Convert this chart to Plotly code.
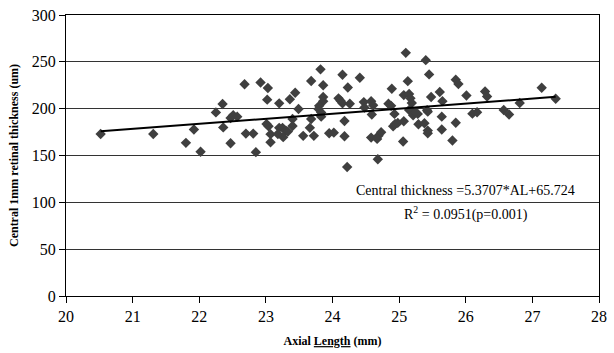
import plotly.graph_objects as go

axial_length = [20.52,21.31,21.80,22.02,21.92,22.25,22.35,22.36,22.47,22.47,22.51,22.57,22.68,22.70,22.81,22.85,
    22.92,23.03,23.02,23.01,23.04,23.07,23.07,23.20,23.20,23.25,23.30,23.26,23.18,23.33,23.36,23.44,23.40,23.40,
    23.49,23.56,23.68,23.68,23.66,23.72,23.82,23.86,23.86,23.86,23.80,23.79,23.83,23.83,23.95,24.02,24.15,24.09,
    24.12,24.15,24.18,24.18,24.23,24.26,24.22,24.41,24.47,24.48,24.58,24.61,24.59,24.58,24.69,24.73,24.67,24.68,
    24.89,24.84,24.88,24.93,24.91,24.94,24.98,25.06,25.10,25.13,25.07,25.15,25.17,25.19,25.07,25.15,25.21,25.24,
    25.28,25.29,25.38,25.40,25.45,25.42,25.43,25.43,25.43,25.48,25.61,25.64,25.64,25.65,25.80,25.85,25.85,25.89,
    26.01,26.10,26.17,26.29,26.32,26.57,26.65,26.81,27.14,27.35]
thickness = [173,173,163.5,154,177.7,196,205,180,163,190,193,191.5,226,173.4,173.4,153.6,
    228,222,209.6,183.7,181.3,172.8,164.2,205.7,179.5,179.5,176.6,169.6,173,175.5,210,217,189,181.5,
    199.7,171,229.5,189,179.5,171,242,225,212.5,207.9,203,199.7,196,191.5,173.8,174.4,236.2,211,
    208.5,205.7,186.9,170.6,222.6,205.2,137.7,233,207,201.3,207.9,203.6,193.8,169.1,171.2,174.9,167.7,146,
    221.2,205.2,203,194.4,181.3,183.7,184.8,165,259.6,229.4,214.5,215.6,211,206,186.6,198.6,193,196.2,
    194.4,183.4,184.5,251.8,236.6,198.3,196.8,176.6,173.8,212.4,217.8,191.5,177.7,208,166,185,231,226.3,
    214,194.7,196.2,218.4,213,198.6,193.7,206,222.3,210.6]

slope = 5.3707
intercept = 65.724
x_ticks = [20, 21, 22, 23, 24, 25, 26, 27, 28]
y_ticks = [0, 50, 100, 150, 200, 250, 300]

x_fit = [min(axial_length), max(axial_length)]
y_fit = [slope * v + intercept for v in x_fit]

FONT = "Liberation Serif, Times New Roman, serif"

fig = go.Figure()
fig.add_trace(go.Scatter(x=axial_length, y=thickness, mode="markers",
                         marker=dict(symbol="diamond", size=8, color="#3f3f3f"),
                         showlegend=False, hoverinfo="x+y"))
fig.add_trace(go.Scatter(x=x_fit, y=y_fit, mode="lines",
                         line=dict(color="black", width=2), showlegend=False))

fig.add_annotation(x=26.0, y=113, xref="x", yref="y", showarrow=False,
                   text=f"Central thickness ={slope}*AL+{intercept}",
                   font=dict(family=FONT, size=14, color="black"))
fig.add_annotation(x=26.0, y=88, xref="x", yref="y", showarrow=False,
                   text="R<sup>2</sup> = 0.0951(p=0.001)",
                   font=dict(family=FONT, size=14, color="black"))

fig.update_layout(
    width=614, height=353,
    margin=dict(l=66, r=7, t=15, b=55),
    paper_bgcolor="white", plot_bgcolor="white",
    font=dict(family=FONT, size=16, color="black"),
    xaxis=dict(range=[20, 28], tickvals=x_ticks, showgrid=False, zeroline=False,
               showline=True, linecolor="black", linewidth=1, mirror=True,
               ticks="outside", ticklen=6, tickcolor="black",
               title=dict(text="<b>Axial <u>Length</u> (mm)</b>", font=dict(size=12), standoff=12)),
    yaxis=dict(range=[0, 300], tickvals=y_ticks, showgrid=True, gridcolor="#333333", gridwidth=1,
               zeroline=False, showline=True, linecolor="black", linewidth=1, mirror=True,
               ticks="outside", ticklen=6, tickcolor="black",
               title=dict(text="<b>Central 1mm retinal thickness (um)</b>", font=dict(size=12), standoff=10)),
)

fig.write_html("out.html")
